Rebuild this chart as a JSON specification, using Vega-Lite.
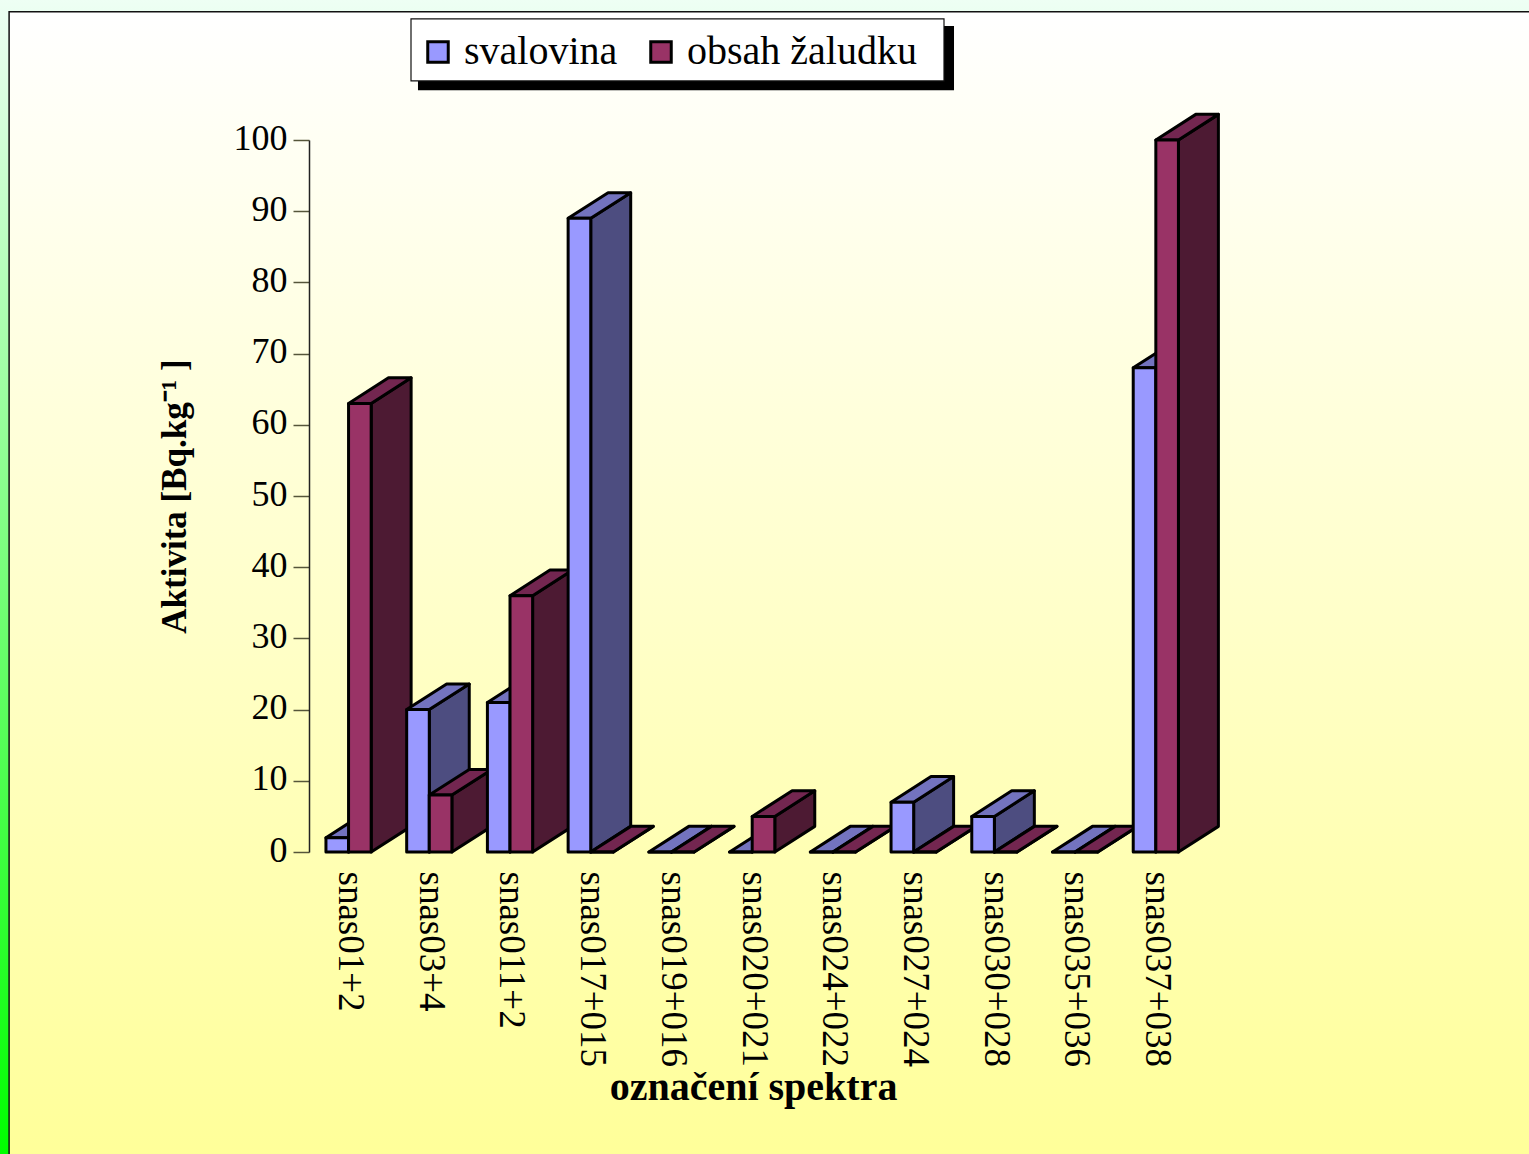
{
  "$schema": "https://vega.github.io/schema/vega-lite/v6.json",
  "width": 888,
  "height": 712,
  "autosize": {"type": "none"},
  "padding": {"left": 309, "top": 140, "right": 332, "bottom": 302},
  "config": {"view": {"stroke": null}, "font": "Liberation Serif"},
  "layer": [
    {
      "data": {"values": [{}]},
      "mark": {"type": "rect", "fill": {"x1": 0, "y1": 0, "x2": 0, "y2": 1, "gradient": "linear", "stops": [{"offset": 0, "color": "#eefff4"}, {"offset": 1, "color": "#00ff00"}]}},
      "encoding": {
        "x": {"datum": -4.33, "type": "quantitative", "scale": {"domain": [-0.5, 10.5]}},
        "x2": {"datum": 14.62},
        "y": {"datum": 119.7, "type": "quantitative", "scale": {"domain": [0, 100]}},
        "y2": {"datum": -42.5}
      }
    },
    {
      "data": {"values": [{}]},
      "mark": {"type": "rect", "stroke": "#111111", "strokeWidth": 1.5, "fill": {"x1": 0, "y1": 0, "x2": 0, "y2": 1, "gradient": "linear", "stops": [{"offset": 0, "color": "#ffffff"}, {"offset": 1, "color": "#ffff99"}]}},
      "encoding": {
        "x": {"datum": -4.215, "type": "quantitative", "scale": {"domain": [-0.5, 10.5]}},
        "x2": {"datum": 14.8},
        "y": {"datum": 118, "type": "quantitative", "scale": {"domain": [0, 100]}},
        "y2": {"datum": -43}
      }
    },
    {
      "data": {"values": [{}]},
      "mark": {"type": "rect", "fill": "#000000"},
      "encoding": {
        "x": {"datum": 0.85, "type": "quantitative", "scale": {"domain": [-0.5, 10.5]}},
        "x2": {"datum": 7.49},
        "y": {"datum": 116, "type": "quantitative", "scale": {"domain": [0, 100]}},
        "y2": {"datum": 107}
      }
    },
    {
      "data": {"values": [{}]},
      "mark": {"type": "rect", "fill": "#ffffff", "stroke": "#111111", "strokeWidth": 1.2},
      "encoding": {
        "x": {"datum": 0.7635, "type": "quantitative", "scale": {"domain": [-0.5, 10.5]}},
        "x2": {"datum": 7.366},
        "y": {"datum": 117, "type": "quantitative", "scale": {"domain": [0, 100]}},
        "y2": {"datum": 108.3}
      }
    },
    {
      "data": {
        "values": [
          {"spektrum": "snas01+2", "poradi": 0, "tkan": "svalovina", "aktivita": 2},
          {"spektrum": "snas01+2", "poradi": 0, "tkan": "obsah žaludku", "aktivita": 63},
          {"spektrum": "snas03+4", "poradi": 1, "tkan": "svalovina", "aktivita": 20},
          {"spektrum": "snas03+4", "poradi": 1, "tkan": "obsah žaludku", "aktivita": 8},
          {"spektrum": "snas011+2", "poradi": 2, "tkan": "svalovina", "aktivita": 21},
          {"spektrum": "snas011+2", "poradi": 2, "tkan": "obsah žaludku", "aktivita": 36},
          {"spektrum": "snas017+015", "poradi": 3, "tkan": "svalovina", "aktivita": 89},
          {"spektrum": "snas017+015", "poradi": 3, "tkan": "obsah žaludku", "aktivita": 0},
          {"spektrum": "snas019+016", "poradi": 4, "tkan": "svalovina", "aktivita": 0},
          {"spektrum": "snas019+016", "poradi": 4, "tkan": "obsah žaludku", "aktivita": 0},
          {"spektrum": "snas020+021", "poradi": 5, "tkan": "svalovina", "aktivita": 0},
          {"spektrum": "snas020+021", "poradi": 5, "tkan": "obsah žaludku", "aktivita": 5},
          {"spektrum": "snas024+022", "poradi": 6, "tkan": "svalovina", "aktivita": 0},
          {"spektrum": "snas024+022", "poradi": 6, "tkan": "obsah žaludku", "aktivita": 0},
          {"spektrum": "snas027+024", "poradi": 7, "tkan": "svalovina", "aktivita": 7},
          {"spektrum": "snas027+024", "poradi": 7, "tkan": "obsah žaludku", "aktivita": 0},
          {"spektrum": "snas030+028", "poradi": 8, "tkan": "svalovina", "aktivita": 5},
          {"spektrum": "snas030+028", "poradi": 8, "tkan": "obsah žaludku", "aktivita": 0},
          {"spektrum": "snas035+036", "poradi": 9, "tkan": "svalovina", "aktivita": 0},
          {"spektrum": "snas035+036", "poradi": 9, "tkan": "obsah žaludku", "aktivita": 0},
          {"spektrum": "snas037+038", "poradi": 10, "tkan": "svalovina", "aktivita": 68},
          {"spektrum": "snas037+038", "poradi": 10, "tkan": "obsah žaludku", "aktivita": 100}
        ]
      },
      "transform": [
        {"calculate": "datum.tkan === 'svalovina' ? datum.poradi - 0.29 : datum.poradi - 0.01", "as": "L"},
        {"calculate": "datum.L + 0.28", "as": "R"},
        {"calculate": "datum.aktivita", "as": "v"},
        {"calculate": "[{s: ' bok', x: [datum.R, datum.R + 0.495, datum.R + 0.495, datum.R, datum.R], y: [0, 3.6, datum.v + 3.6, datum.v, 0]}, {s: ' vrch', x: [datum.L, datum.R, datum.R + 0.495, datum.L + 0.495, datum.L], y: [datum.v, datum.v, datum.v + 3.6, datum.v + 3.6, datum.v]}, {s: '', x: [datum.L, datum.R, datum.R, datum.L, datum.L], y: [0, 0, datum.v, datum.v, 0]}]", "as": "plocha"},
        {"flatten": ["plocha"]},
        {"calculate": "[0, 1, 2, 3, 4]", "as": "vrchol"},
        {"flatten": ["vrchol"]},
        {"calculate": "datum.plocha.x[datum.vrchol]", "as": "px"},
        {"calculate": "datum.plocha.y[datum.vrchol]", "as": "py"},
        {"calculate": "datum.tkan + datum.plocha.s", "as": "stena"},
        {"calculate": "datum.spektrum + ' ' + datum.stena", "as": "polygon"}
      ],
      "mark": {"type": "line", "stroke": "#000000", "strokeWidth": 3, "strokeJoin": "round", "strokeCap": "round"},
      "encoding": {
        "x": {
          "field": "px",
          "type": "quantitative",
          "scale": {"domain": [-0.5, 10.5]},
          "axis": {
            "values": [0, 1, 2, 3, 4, 5, 6, 7, 8, 9, 10],
            "labelExpr": "['snas01+2','snas03+4','snas011+2','snas017+015','snas019+016','snas020+021','snas024+022','snas027+024','snas030+028','snas035+036','snas037+038'][datum.value]",
            "title": "označení spektra",
            "titleFont": "Liberation Serif",
            "titleFontWeight": "bold",
            "titleFontSize": 40,
            "titleColor": "#000000",
            "titlePadding": 15,
            "labelFont": "Liberation Serif",
            "labelFontSize": 37,
            "labelColor": "#000000",
            "labelAngle": 90,
            "labelPadding": 19,
            "labelLimit": 400,
            "labelOverlap": false,
            "labelFlush": false,
            "labelBound": false,
            "domain": false,
            "ticks": false,
            "grid": false,
            "zindex": 1
          }
        },
        "y": {
          "field": "py",
          "type": "quantitative",
          "scale": {"domain": [0, 100]},
          "axis": {
            "values": [0, 10, 20, 30, 40, 50, 60, 70, 80, 90, 100],
            "title": "Aktivita [Bq.kg⁻¹ ]",
            "titleFont": "Liberation Serif",
            "titleFontWeight": "bold",
            "titleFontSize": 35,
            "titleColor": "#000000",
            "titlePadding": 41,
            "labelFont": "Liberation Serif",
            "labelFontSize": 36,
            "labelColor": "#000000",
            "labelPadding": 6,
            "labelOffset": -2,
            "labelOverlap": false,
            "tickSize": 16,
            "tickColor": "#55553a",
            "tickWidth": 1.5,
            "domainColor": "#222222",
            "domainWidth": 1.5,
            "grid": false,
            "zindex": 1
          }
        },
        "detail": {"field": "polygon"},
        "order": {"field": "vrchol", "type": "quantitative"},
        "fill": {
          "field": "stena",
          "type": "nominal",
          "scale": {
            "domain": ["svalovina", "svalovina bok", "svalovina vrch", "obsah žaludku", "obsah žaludku bok", "obsah žaludku vrch"],
            "range": ["#9999ff", "#4d4d80", "#7373bf", "#993366", "#4d1a33", "#732650"]
          },
          "legend": {
            "values": ["svalovina", "obsah žaludku"],
            "orient": "none",
            "legendX": 109,
            "legendY": -108,
            "direction": "horizontal",
            "columns": 2,
            "title": null,
            "padding": 0,
            "symbolType": "square",
            "symbolSize": 420,
            "symbolStrokeColor": "#000000",
            "symbolStrokeWidth": 3,
            "labelFont": "Liberation Serif",
            "labelFontSize": 40,
            "labelColor": "#000000",
            "labelOffset": 6,
            "columnPadding": 23,
            "labelLimit": 400
          }
        }
      }
    }
  ]
}
